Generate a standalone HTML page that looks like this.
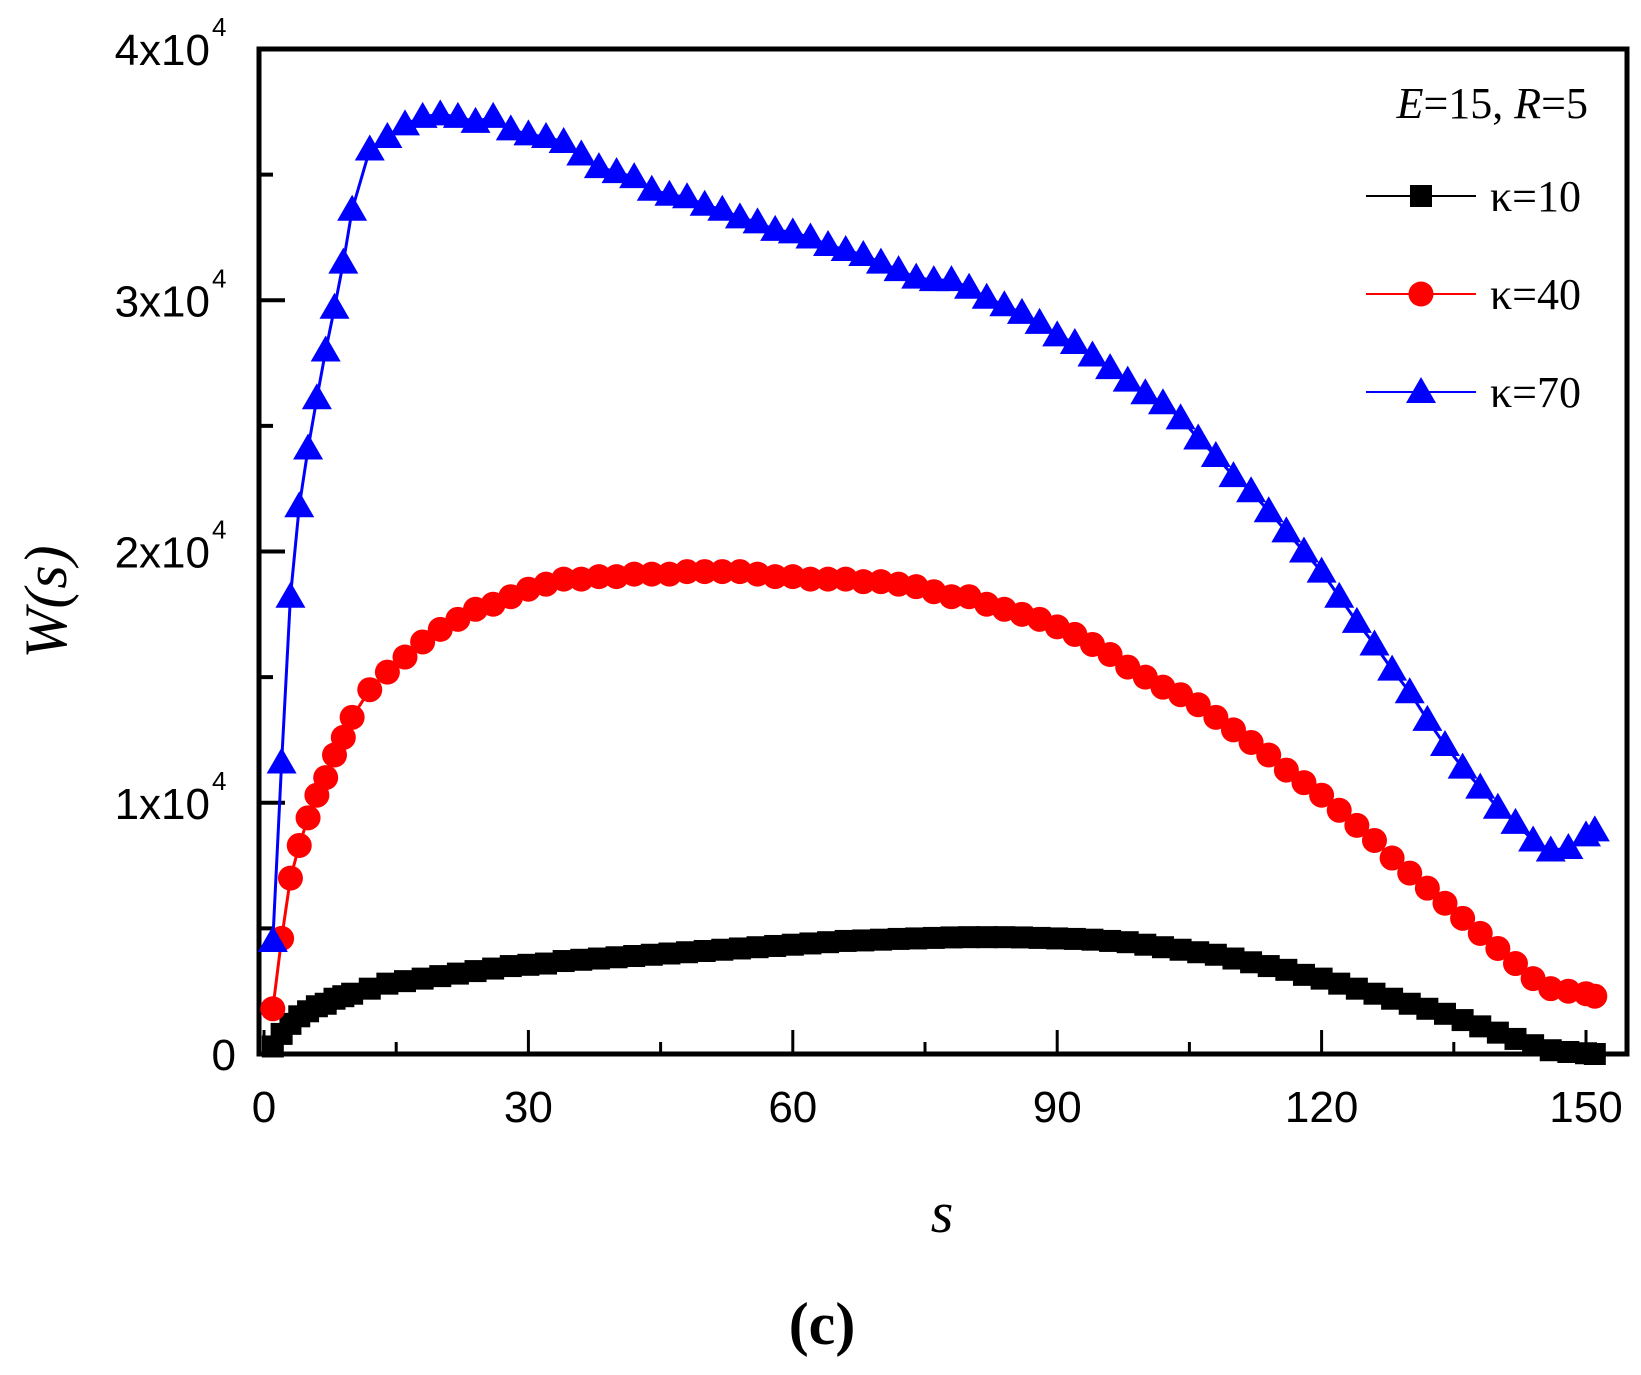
<!DOCTYPE html>
<html><head><meta charset="utf-8"><style>
html,body{margin:0;padding:0;background:#fff;}
svg{display:block;}
text{font-family:"Liberation Sans",sans-serif;}
.serif{font-family:"Liberation Serif",serif;}
</style></head><body>
<svg id="chart" width="1641" height="1375" viewBox="0 0 1641 1375" xmlns="http://www.w3.org/2000/svg">
<g id="axes"></g>
<g id="series"></g>
<g id="legend">
  <text class="serif" x="1588" y="118" font-size="44" text-anchor="end"><tspan font-style="italic">E</tspan>=15, <tspan font-style="italic">R</tspan>=5</text>
</g>
<text class="serif" font-size="60" font-style="italic" transform="translate(66,602) rotate(-90)" text-anchor="middle">W(s)</text>
<text class="serif" font-size="58" font-style="italic" x="942" y="1232" text-anchor="middle">s</text>
<text class="serif" font-size="60" font-weight="bold" x="822" y="1344" text-anchor="middle">(c)</text>
</svg>
<script>
const xTicks=[0,30,60,90,120,150];
const xMinor=[15,45,75,105,135];
const yTicks=[0,10000,20000,30000,40000];
const yTickLabels=["0","1x10","2x10","3x10","4x10"];
const yMinor=[5000,15000,25000,35000];
const sVals=[1,2,3,4,5,6,7,8,9,10,12,14,16,18,20,22,24,26,28,30,32,34,36,38,40,42,44,46,48,50,52,54,56,58,60,62,64,66,68,70,72,74,76,78,80,82,84,86,88,90,92,94,96,98,100,102,104,106,108,110,112,114,116,118,120,122,124,126,128,130,132,134,136,138,140,142,144,146,148,150,151];
const k10=[300,800,1200,1500,1700,1900,2000,2200,2300,2400,2600,2800,2900,3000,3100,3200,3300,3400,3500,3550,3600,3700,3750,3800,3850,3900,3950,4000,4050,4100,4150,4200,4250,4300,4350,4400,4450,4500,4520,4550,4580,4600,4620,4640,4650,4650,4650,4640,4620,4600,4580,4550,4500,4450,4350,4250,4150,4050,3950,3800,3650,3500,3350,3150,3000,2800,2600,2400,2200,2000,1800,1600,1350,1100,850,600,350,150,80,30,0];
const k40=[1800,4600,7000,8300,9400,10300,11000,11900,12600,13400,14500,15200,15800,16400,16900,17300,17700,17900,18200,18500,18700,18900,18900,19000,19000,19100,19100,19100,19200,19200,19200,19200,19100,19000,19000,18900,18900,18900,18800,18800,18700,18600,18400,18200,18200,17900,17700,17500,17300,17000,16700,16300,15900,15400,15000,14600,14300,13900,13400,12900,12400,11900,11300,10800,10300,9700,9100,8500,7800,7200,6600,6000,5400,4800,4200,3600,3000,2600,2500,2400,2300];
const k70=[4500,11600,18200,21800,24100,26100,28000,29700,31500,33600,36000,36500,37000,37300,37400,37300,37100,37300,36800,36600,36500,36300,35800,35300,35100,34900,34400,34200,34100,33800,33600,33300,33100,32800,32700,32500,32200,32000,31800,31500,31200,30900,30800,30800,30500,30100,29800,29500,29100,28600,28300,27800,27300,26800,26300,25900,25300,24500,23800,23000,22400,21600,20800,20000,19200,18200,17200,16300,15300,14400,13300,12300,11400,10600,9800,9200,8500,8100,8200,8700,8900];

const NS="http://www.w3.org/2000/svg";
const X0=264,X1=1586,Y0=1054,Y1=49;
function xs(v){return X0+(X1-X0)*v/150;}
function ys(v){return Y0-(Y0-Y1)*v/40000;}
function mk(tag,attrs,parent){const e=document.createElementNS(NS,tag);for(const k in attrs)e.setAttribute(k,attrs[k]);parent.appendChild(e);return e;}
const axes=document.getElementById('axes'), ser=document.getElementById('series'), leg=document.getElementById('legend');

const frame=mk('rect',{x:259,y:49,width:1368,height:1005,fill:'none',stroke:'#000','stroke-width':5},axes);


xTicks.forEach(v=>{
  const t=mk('line',{x1:xs(v),x2:xs(v),y1:Y0,y2:Y0-24,stroke:'#000','stroke-width':3},axes);
  
  
  const l=mk('text',{x:xs(v),y:1122,'font-size':44,'text-anchor':'middle'},axes);
  l.textContent=v;
  
  
});
xMinor.forEach(v=>{
  const t=mk('line',{x1:xs(v),x2:xs(v),y1:Y0,y2:Y0-12,stroke:'#000','stroke-width':3},axes);
  
  
});
yTicks.forEach((v,i)=>{
  const t=mk('line',{x1:259,x2:285,y1:ys(v),y2:ys(v),stroke:'#000','stroke-width':4},axes);
  
  
  const l=mk('text',{x:i===0?236:210,y:ys(v)+16,'font-size':44,'text-anchor':'end'},axes);
  l.textContent=yTickLabels[i];
  
  
  if(i>0){
    const e=mk('text',{x:212,y:ys(v)-13,'font-size':26,'text-anchor':'start'},axes);
    e.textContent='4';
    
    
  }
});
yMinor.forEach(v=>{
  const t=mk('line',{x1:259,x2:273,y1:ys(v),y2:ys(v),stroke:'#000','stroke-width':4},axes);
  
  
});

function marker(type,cx,cy,color,parent){
  let e;
  if(type==='sq') e=mk('rect',{x:cx-11,y:cy-11,width:22,height:22,fill:color},parent);
  else if(type==='ci') e=mk('circle',{cx:cx,cy:cy,r:12.5,fill:color},parent);
  else e=mk('polygon',{points:`${cx},${cy-15} ${cx-15},${cy+11} ${cx+15},${cy+11}`,fill:color},parent);
  return e;
}
const seriesDefs=[{name:'kappa-10',data:k10,color:'#000',m:'sq',label:'κ=10'},{name:'kappa-40',data:k40,color:'#f00',m:'ci',label:'κ=40'},{name:'kappa-70',data:k70,color:'#00f',m:'tr',label:'κ=70'}];
seriesDefs.forEach((sd,si)=>{
  const g=mk('g',{},ser);
  
  
  const pts=sVals.map((s,i)=>xs(s)+','+ys(sd.data[i])).join(' ');
  const pl=mk('polyline',{points:pts,fill:'none',stroke:sd.color,'stroke-width':3},g);
  
  
  sVals.forEach((s,i)=>{
    const m=marker(sd.m,xs(s),ys(sd.data[i]),sd.color,g);
    
    
  });
  const ly=196+si*98;
  const lg=mk('g',{},leg);
  
  
  mk('line',{x1:1366,x2:1476,y1:ly,y2:ly,stroke:sd.color,'stroke-width':2},lg);
  marker(sd.m,1421,ly,sd.color,lg);
  const t=mk('text',{x:1490,y:ly+15,'font-size':44,class:'serif'},lg);
  t.textContent=sd.label;
});
</script>
</body></html>
